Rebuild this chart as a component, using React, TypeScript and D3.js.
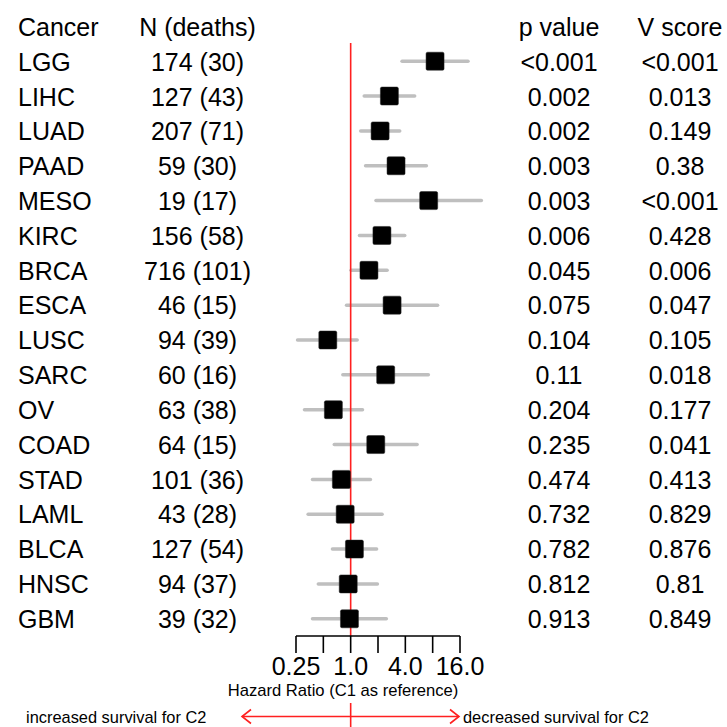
import React from "react";
import * as d3 from "d3";

const cancers = ["LGG","LIHC","LUAD","PAAD","MESO","KIRC","BRCA","ESCA","LUSC","SARC","OV","COAD","STAD","LAML","BLCA","HNSC","GBM"];
const nLabels = ["174 (30)","127 (43)","207 (71)","59 (30)","19 (17)","156 (58)","716 (101)","46 (15)","94 (39)","60 (16)","63 (38)","64 (15)","101 (36)","43 (28)","127 (54)","94 (37)","39 (32)"];
const pValues = ["<0.001","0.002","0.002","0.003","0.003","0.006","0.045","0.075","0.104","0.11","0.204","0.235","0.474","0.732","0.782","0.812","0.913"];
const vScores = ["<0.001","0.013","0.149","0.38","<0.001","0.428","0.006","0.047","0.105","0.018","0.177","0.041","0.413","0.829","0.876","0.81","0.849"];
const hr = [8.5,2.67,2.11,3.16,7.23,2.21,1.59,2.86,0.56,2.43,0.645,1.89,0.79,0.87,1.10,0.94,0.97];
const lower = [3.68,1.41,1.29,1.46,1.90,1.25,1.01,0.90,0.26,0.82,0.31,0.66,0.38,0.34,0.63,0.44,0.38];
const upper = [19.6,5.07,3.47,6.82,27.5,3.94,2.52,9.07,1.18,7.17,1.35,5.39,1.65,2.22,1.93,1.97,2.47];
const tickValues = [0.25,0.5,1,2,4,8,16];
const tickLabels = ["0.25","","1.0","","4.0","","16.0"];

const FONT = "'Liberation Sans', Arial, sans-serif";

export default function App() {
  const x = d3.scaleLog().base(2).domain([0.25, 16]).range([296, 460]);
  const yBox = d3.scaleLinear().domain([0, cancers.length - 1]).range([61.2, 618.8]);
  const yText = d3.scaleLinear().domain([0, cancers.length - 1]).range([70.7, 627.8]);
  const x1 = x(1);
  const axisY = 636;
  const arrowY = 716.5;
  const sq = 18;
  return (
    <div style={{ position: "absolute", left: 0, top: 0 }}>
      <svg width={727} height={727} style={{ display: "block", background: "#fff" }} fontFamily={FONT}>
        <rect width={727} height={727} fill="#fff" />
        {/* headers */}
        <g fontSize={25} fill="#000">
          <text x={18} y={36}>Cancer</text>
          <text x={197.5} y={36} textAnchor="middle">N (deaths)</text>
          <text x={559} y={36} textAnchor="middle">p value</text>
          <text x={680} y={36} textAnchor="middle">V score</text>
        </g>
        {/* rows text */}
        <g fontSize={25} fill="#000">
          {cancers.map((c, i) => (
            <g key={c}>
              <text x={18} y={yText(i)}>{c}</text>
              <text x={197.5} y={yText(i)} textAnchor="middle">{nLabels[i]}</text>
              <text x={559} y={yText(i)} textAnchor="middle">{pValues[i]}</text>
              <text x={680} y={yText(i)} textAnchor="middle">{vScores[i]}</text>
            </g>
          ))}
        </g>
        {/* CI lines */}
        {cancers.map((c, i) => (
          <line key={"ci" + c} x1={x(lower[i])} x2={x(upper[i])} y1={yBox(i)} y2={yBox(i)}
            stroke="#bfbfbf" strokeWidth={3.5} strokeLinecap="round" />
        ))}
        {/* reference line */}
        <line x1={x1} x2={x1} y1={43} y2={axisY} stroke="#ff2020" strokeWidth={1.6} />
        {/* squares */}
        {cancers.map((c, i) => (
          <rect key={"sq" + c} x={x(hr[i]) - sq / 2} y={yBox(i) - sq / 2} width={sq} height={sq}
            rx={1.5} fill="#000" stroke="#222" strokeWidth={0.5} />
        ))}
        {/* axis */}
        <line x1={x(0.25)} x2={x(16)} y1={axisY} y2={axisY} stroke="#000" strokeWidth={1.6} />
        {tickValues.map((t, i) => (
          <g key={"t" + t}>
            <line x1={x(t)} x2={x(t)} y1={axisY} y2={axisY + 17} stroke="#000" strokeWidth={1.6} />
            {tickLabels[i] && (
              <text x={x(t)} y={675} fontSize={25} textAnchor="middle" fill="#000">{tickLabels[i]}</text>
            )}
          </g>
        ))}
        <text x={343} y={696} fontSize={16.6} textAnchor="middle" fill="#000">Hazard Ratio (C1 as reference)</text>
        {/* bottom arrows */}
        <line x1={242} x2={459} y1={arrowY} y2={arrowY} stroke="#ff2020" strokeWidth={1.6} />
        <polyline points={`${251},${arrowY - 7} ${242},${arrowY} ${251},${arrowY + 7}`} fill="none" stroke="#ff2020" strokeWidth={1.6} />
        <polyline points={`${450},${arrowY - 7} ${459},${arrowY} ${450},${arrowY + 7}`} fill="none" stroke="#ff2020" strokeWidth={1.6} />
        <line x1={x1} x2={x1} y1={703} y2={727} stroke="#ff2020" strokeWidth={1.6} />
        <text x={26} y={722.5} fontSize={16.4} fill="#000">increased survival for C2</text>
        <text x={463} y={722.5} fontSize={16.4} fill="#000">decreased survival for C2</text>
      </svg>
    </div>
  );
}
